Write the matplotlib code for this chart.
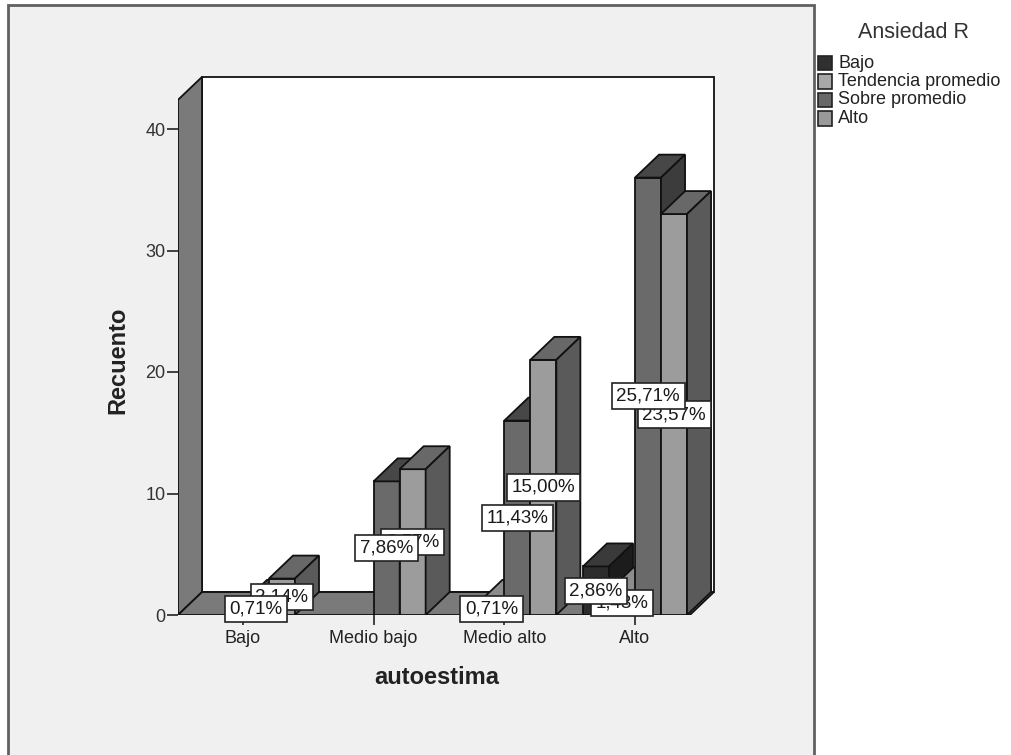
import matplotlib
matplotlib.use("Agg")
import matplotlib.pyplot as plt
from matplotlib.patches import Polygon, Rectangle

plt.rcParams['font.family'] = ['Liberation Sans', 'DejaVu Sans']

# autoestima categories and Ansiedad R groups (counts)
categories = ["Bajo", "Medio bajo", "Medio alto", "Alto"]
groups = ["Bajo", "Tendencia promedio", "Sobre promedio", "Alto"]
bajo = [0, 0, 0, 4]
tendencia = [0, 0, 1, 2]
sobre = [1, 11, 16, 36]
alto = [3, 12, 21, 33]
total = 140
yticks = [0, 10, 20, 30, 40]

counts = [bajo, tendencia, sobre, alto]
front_col = ['#2c2c2c', '#a8a8a8', '#6a6a6a', '#9c9c9c']
top_col = ['#3a3a3a', '#8c8c8c', '#474747', '#686868']
side_col = ['#1c1c1c', '#7c7c7c', '#3c3c3c', '#5a5a5a']
legend_col = ['#303030', '#a8a8a8', '#686868', '#9a9a9a']
wall_col = '#7a7a7a'

W = 0.199          # bar width
DX, DY = 0.184, 1.89   # depth offset
X0, X1 = -0.497, 3.42  # floor front edge
H = 42.4               # wall height

fig = plt.figure(figsize=(10.11, 7.55), dpi=100)
fig.patch.set_facecolor('white')
fig.patches.append(Rectangle((8 / 1011, -0.01), 806 / 1011, 1 - 5 / 755 + 0.01,
                             transform=fig.transFigure, fc='#f0f0f0',
                             ec='#606060', lw=2, zorder=-10))

ax = fig.add_axes([178 / 1011, 140 / 755, 552 / 1011, 555 / 755])
ax.set_zorder(5)
ax.set_xlim(X0, (730 - 243) / 130.67)
ax.set_ylim(0, 555 / 12.15)
ax.patch.set_visible(False)
for s in ax.spines.values():
    s.set_visible(False)


def poly(pts, fc, z):
    ax.add_patch(Polygon(pts, closed=True, fc=fc, ec='#111111', lw=1.3,
                         joinstyle='miter', zorder=z))


# back wall, left wall, floor
poly([(X0 + DX, DY), (X1 + DX, DY), (X1 + DX, H + DY), (X0 + DX, H + DY)], 'white', 1)
poly([(X0, 0), (X0 + DX, DY), (X0 + DX, H + DY), (X0, H)], wall_col, 2)
poly([(X0, 0), (X1, 0), (X1 + DX, DY), (X0 + DX, DY)], wall_col, 2)

# 3D bars, left to right so right-hand neighbours cover side faces
z = 3
for c in range(len(categories)):
    for g in range(len(groups)):
        v = counts[g][c]
        if v == 0:
            continue
        x = c + (g - 2) * W
        poly([(x, 0), (x + W, 0), (x + W, v), (x, v)], front_col[g], z)
        poly([(x, v), (x + W, v), (x + W + DX, v + DY), (x + DX, v + DY)], top_col[g], z)
        poly([(x + W, 0), (x + W + DX, DY), (x + W + DX, v + DY), (x + W, v)], side_col[g], z)
        z += 1

# percentage labels at mid-height of each front face
for c in range(len(categories)):
    for g in range(len(groups)):
        v = counts[g][c]
        if v == 0:
            continue
        pct = f"{v / total * 100:.2f}%".replace('.', ',')
        ax.text(c + (g - 2) * W + W / 2, v / 2, pct, ha='center', va='center',
                fontsize=13.5, color='#1a1a1a', zorder=200 - g,
                bbox=dict(boxstyle='square,pad=0.25', fc='white', ec='#222222', lw=1.2))

ax.set_yticks(yticks)
ax.set_xticks(range(len(categories)))
ax.set_xticklabels(categories)
ax.tick_params(axis='y', length=8, width=1.3, color='#333333', labelsize=13,
               labelcolor='#333333', pad=1)
ax.tick_params(axis='x', length=7, width=1.3, color='#333333', labelsize=13,
               labelcolor='#222222', pad=4)

fig.text(437 / 1011, 1 - 677 / 755, "autoestima", ha='center', va='center',
         fontsize=17, fontweight='bold', color='#222222')
fig.text(118 / 1011, 1 - 360 / 755, "Recuento", ha='center', va='center',
         rotation=90, fontsize=17, fontweight='bold', color='#222222')

# legend
fig.text(913 / 1011, 1 - 32 / 755, "Ansiedad R", ha='center', va='center',
         fontsize=15.5, color='#333333')
for i, name in enumerate(groups):
    yc = 63 + i * 18.5
    fig.patches.append(Rectangle((818 / 1011, 1 - (yc + 7) / 755), 14 / 1011, 14 / 755,
                                 transform=fig.transFigure, fc=legend_col[i],
                                 ec='#222222', lw=1.2))
    fig.text(838 / 1011, 1 - yc / 755, name, ha='left', va='center',
             fontsize=13, color='#222222')

fig.savefig("out.png", dpi=100)
